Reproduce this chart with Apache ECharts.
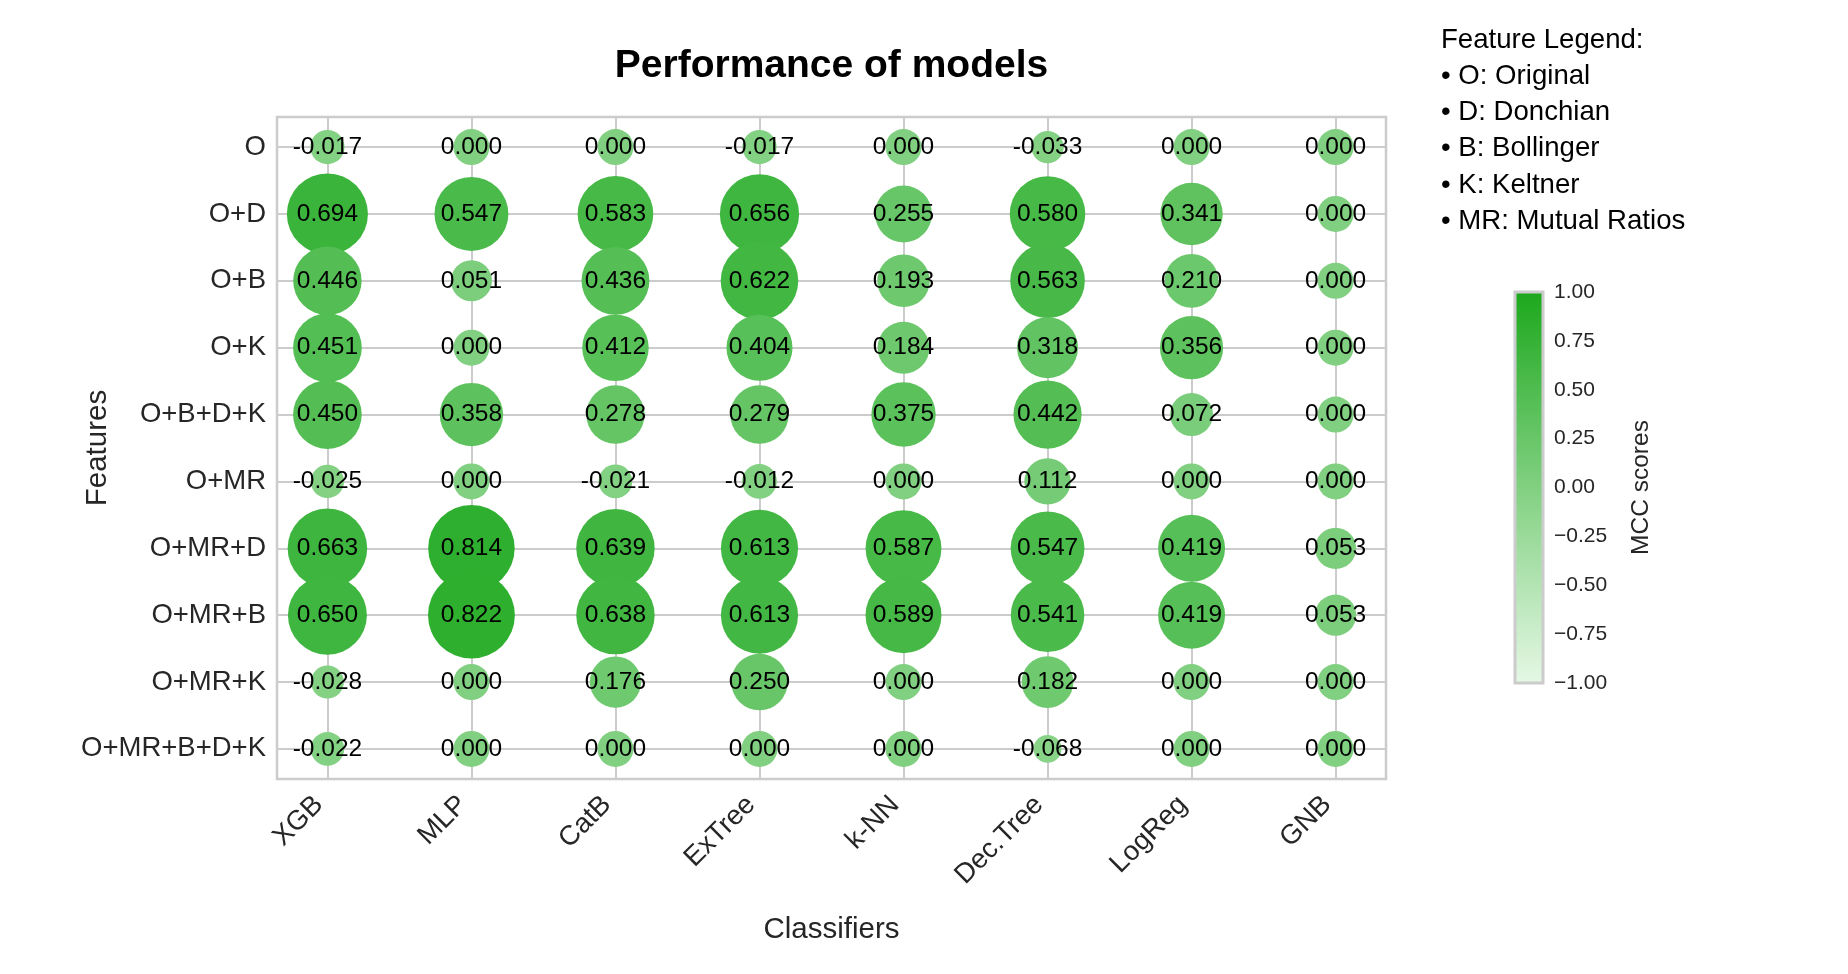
<!DOCTYPE html>
<html>
<head>
<meta charset="utf-8">
<script src="https://cdn.jsdelivr.net/npm/echarts@6/dist/echarts.min.js"></script>
<style>
html,body{margin:0;padding:0;background:#fff;}
#chart{width:1848px;height:974px;}
</style>
</head>
<body>
<div id="chart"></div>
<script>
// ---- data ----
const classifiers = ['XGB', 'MLP', 'CatB', 'ExTree', 'k-NN', 'Dec.Tree', 'LogReg', 'GNB'];
const features = ['O', 'O+D', 'O+B', 'O+K', 'O+B+D+K', 'O+MR', 'O+MR+D', 'O+MR+B', 'O+MR+K', 'O+MR+B+D+K'];

const mcc_O          = [-0.017, 0.000, 0.000, -0.017, 0.000, -0.033, 0.000, 0.000];
const mcc_O_D        = [0.694, 0.547, 0.583, 0.656, 0.255, 0.580, 0.341, 0.000];
const mcc_O_B        = [0.446, 0.051, 0.436, 0.622, 0.193, 0.563, 0.210, 0.000];
const mcc_O_K        = [0.451, 0.000, 0.412, 0.404, 0.184, 0.318, 0.356, 0.000];
const mcc_O_B_D_K    = [0.450, 0.358, 0.278, 0.279, 0.375, 0.442, 0.072, 0.000];
const mcc_O_MR       = [-0.025, 0.000, -0.021, -0.012, 0.000, 0.112, 0.000, 0.000];
const mcc_O_MR_D     = [0.663, 0.814, 0.639, 0.613, 0.587, 0.547, 0.419, 0.053];
const mcc_O_MR_B     = [0.650, 0.822, 0.638, 0.613, 0.589, 0.541, 0.419, 0.053];
const mcc_O_MR_K     = [-0.028, 0.000, 0.176, 0.250, 0.000, 0.182, 0.000, 0.000];
const mcc_O_MR_B_D_K = [-0.022, 0.000, 0.000, 0.000, 0.000, -0.068, 0.000, 0.000];

const colorbarRange = [-1, 1];
const legendLines = ['Feature Legend:', '\u2022 O: Original', '\u2022 D: Donchian', '\u2022 B: Bollinger', '\u2022 K: Keltner', '\u2022 MR: Mutual Ratios'];

// ---- build ----
const rows = [mcc_O, mcc_O_D, mcc_O_B, mcc_O_K, mcc_O_B_D_K, mcc_O_MR, mcc_O_MR_D, mcc_O_MR_B, mcc_O_MR_K, mcc_O_MR_B_D_K];
const points = [];
rows.forEach((row, fi) => row.forEach((v, ci) => points.push([ci, fi, v])));

const cmapLow = '#e6f8e6';
const cmapHigh = '#1ca81c';
const FONT = '"Liberation Sans", Arial, sans-serif';
const TXT = '#262626';

const chart = echarts.init(document.getElementById('chart'), null, {renderer: 'canvas'});
chart.setOption({
  backgroundColor: '#ffffff',
  textStyle: {fontFamily: FONT},
  animation: false,
  title: [
    {
      text: 'Performance of models',
      left: 831.5, top: 47, textAlign: 'center', padding: 0,
      textStyle: {fontSize: 39, fontWeight: 'bold', color: '#000', fontFamily: FONT}
    },
    {
      text: legendLines.join('\n'),
      left: 1441, top: 22, padding: 0,
      textStyle: {fontSize: 27.6, fontWeight: 'normal', color: '#000', lineHeight: 36.2, fontFamily: FONT}
    }
  ],
  grid: [
    {left: 277, top: 117, width: 1109, height: 662, show: true, borderColor: '#cccccc', borderWidth: 2.5, backgroundColor: 'transparent'},
    {left: 1515, top: 292, width: 28, height: 391}
  ],
  xAxis: [
    {
      gridIndex: 0, type: 'value', min: -0.35, max: 7.35,
      axisLine: {show: false},
      axisTick: {show: false, customValues: classifiers.map((c, i) => i)},
      axisLabel: {
        customValues: classifiers.map((c, i) => i),
        formatter: v => classifiers[Math.round(v)] || '',
        rotate: 45, fontSize: 27.5, color: TXT, margin: 13, padding: [0, 12, 0, 0], fontFamily: FONT
      },
      splitLine: {show: true, lineStyle: {color: '#cccccc', width: 2}},
      name: 'Classifiers', nameLocation: 'middle', nameGap: 135.5,
      nameTextStyle: {fontSize: 29.5, color: TXT, fontFamily: FONT}
    },
    {gridIndex: 1, type: 'category', data: ['cb'], show: false, boundaryGap: true}
  ],
  yAxis: [
    {
      gridIndex: 0, type: 'value', inverse: true, min: -0.45, max: 9.45,
      axisLine: {show: false},
      axisTick: {show: false, customValues: features.map((f, i) => i)},
      axisLabel: {
        customValues: features.map((f, i) => i),
        formatter: v => features[Math.round(v)] || '',
        fontSize: 27.5, color: TXT, margin: 11, fontFamily: FONT
      },
      splitLine: {show: true, lineStyle: {color: '#cccccc', width: 2}},
      name: 'Features', nameLocation: 'middle', nameGap: 164.5, nameMoveOverlap: false,
      nameTextStyle: {fontSize: 29.5, color: TXT, fontFamily: FONT}
    },
    {
      gridIndex: 1, type: 'value', position: 'right',
      min: colorbarRange[0], max: colorbarRange[1], interval: 0.25,
      axisLine: {show: false}, axisTick: {show: false}, splitLine: {show: false},
      axisLabel: {
        fontSize: 21, color: TXT, margin: 11, fontFamily: FONT,
        formatter: v => (v < 0 ? '\u2212' : '') + Math.abs(v).toFixed(2)
      },
      name: 'MCC scores', nameLocation: 'middle', nameGap: 86,
      nameTextStyle: {fontSize: 24.5, color: TXT, fontFamily: FONT}
    }
  ],
  visualMap: {
    show: false, type: 'continuous', min: -1, max: 1, dimension: 2, seriesIndex: 0,
    inRange: {color: [cmapLow, cmapHigh]}
  },
  series: [
    {
      type: 'scatter', xAxisIndex: 0, yAxisIndex: 0,
      data: points,
      symbol: 'circle',
      symbolSize: d => Math.sqrt(Math.max(200, 1296 + 7600 * d[2])),
      itemStyle: {opacity: 1},
      label: {
        show: true, position: 'inside',
        formatter: p => p.data[2].toFixed(3),
        color: '#000', fontSize: 24.5, fontFamily: FONT
      },
      labelLayout: {hideOverlap: false},
      emphasis: {disabled: true},
      z: 3
    },
    {
      type: 'custom', xAxisIndex: 1, yAxisIndex: 1,
      data: [[0, colorbarRange[0], colorbarRange[1]]],
      renderItem: (params, api) => {
        const top = api.coord([0, api.value(2)]);
        const bot = api.coord([0, api.value(1)]);
        const w = api.size([1, 0])[0];
        return {
          type: 'rect',
          shape: {x: top[0] - w / 2, y: top[1], width: w, height: bot[1] - top[1]},
          style: {
            fill: new echarts.graphic.LinearGradient(0, 0, 0, 1, [
              {offset: 0, color: cmapHigh}, {offset: 1, color: cmapLow}
            ]),
            stroke: '#cccccc', lineWidth: 3
          }
        };
      },
      silent: true
    }
  ]
});
</script>
</body>
</html>
